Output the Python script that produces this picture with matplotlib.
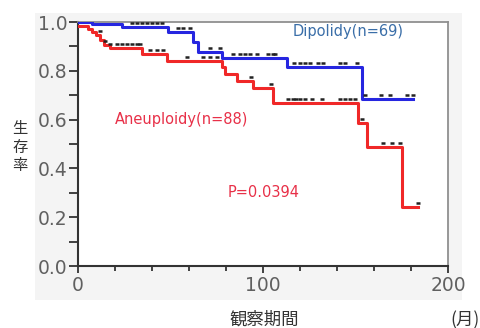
import numpy as np
import matplotlib
matplotlib.use("Agg")
import matplotlib.pyplot as plt
import matplotlib.transforms as mtransforms
from matplotlib.ticker import MultipleLocator

plt.rcParams['font.family'] = ['DejaVu Sans', 'Noto Sans CJK JP']

# Dipolidy (n=69) step curve
dip_time = [0, 7.5, 24, 48.6, 62, 65, 78, 113, 153.5, 181]
dip_surv = [1.0, 0.99, 0.978, 0.957, 0.92, 0.878, 0.852, 0.815, 0.683, 0.683]
dip_cens = [29.2, 31.9, 34.6, 37.3, 40, 42.7, 45.4, 54, 56.8, 60.5, 71.4, 76.8,
            83.8, 87.6, 90.3, 93, 96.8, 102.7, 105.4, 106.5,
            117, 120, 122.7, 125.4, 129.7, 132.4, 141.6, 144.3, 150.8,
            155, 164, 168.6, 177.8, 181]

# Aneuploidy (n=88) step curve
ane_time = [0, 5.4, 7.6, 9.7, 12, 14, 17.3, 34.6, 48, 77.8, 79.5, 86, 94.6,
            105.4, 151.4, 156.2, 175, 183.8]
ane_surv = [0.985, 0.97, 0.96, 0.945, 0.925, 0.905, 0.893, 0.868, 0.842, 0.815,
            0.786, 0.757, 0.728, 0.67, 0.588, 0.486, 0.243, 0.243]
ane_cens = [11.9, 14.6, 17.3, 21, 23.8, 26.5, 29.2, 31.9, 33.5, 38.9, 42.7, 46,
            58.9, 67.6, 71.4, 75, 93.5, 104.5,
            113.5, 116, 118, 120, 122.7, 126.5, 132, 141.6, 144.3, 147, 149.7,
            153.5, 164.9, 169.7, 174, 183.8]

x_ticks = [0, 100, 200]
y_ticks = [0.0, 0.2, 0.4, 0.6, 0.8, 1.0]
y_labels = ["0.0", "0.2", "0.4", "0.6", "0.8", "1.0"]

fig = plt.figure(figsize=(4.8, 3.28), dpi=100)
bg = fig.add_axes([35/480, 28/328, (462-35)/480, (315-28)/328], zorder=0)
bg.set_facecolor('#f4f4f4')
bg.set_xticks([]); bg.set_yticks([])
for s in bg.spines.values():
    s.set_visible(False)

ax = fig.add_axes([78/480, 62/328, 370/480, 244/328], zorder=2)
ax.set_facecolor('white')

blue = '#2626e0'
red = '#f02828'
ax.step(dip_time, dip_surv, where='post', color=blue, lw=2.2, zorder=3)
ax.step(ane_time, ane_surv, where='post', color=red, lw=2.2, zorder=3)

off = mtransforms.offset_copy(ax.transData, fig=fig, x=0, y=4, units='dots')

def surv_at(times, survs, t):
    idx = np.searchsorted(np.array(times), t, side='right') - 1
    return np.array(survs)[idx]

for times, survs, cens in [(dip_time, dip_surv, dip_cens), (ane_time, ane_surv, ane_cens)]:
    cy = surv_at(times, survs, np.array(cens))
    ax.plot(cens, cy, linestyle='none', marker='_', ms=3, mew=1.8,
            color='#222222', transform=off, zorder=4)

ax.set_xlim(0, 200)
ax.set_ylim(0, 1.0)
ax.set_xticks(x_ticks)
ax.set_yticks(y_ticks)
ax.set_yticklabels(y_labels)
ax.xaxis.set_minor_locator(MultipleLocator(20))
ax.yaxis.set_minor_locator(MultipleLocator(0.1))
ax.tick_params(axis='y', which='both', direction='out', length=6.5, width=1.3,
               color='#333333', labelsize=13.5, labelcolor='#606060', pad=1)
ax.tick_params(axis='x', which='major', direction='out', length=5, width=1.3,
               color='#333333', labelsize=13.5, labelcolor='#606060', pad=2)
ax.tick_params(axis='x', which='minor', direction='out', length=3.5, width=1.3,
               color='#333333')
for s in ['left', 'bottom']:
    ax.spines[s].set_color('#333333')
    ax.spines[s].set_linewidth(1.5)
for s in ['top', 'right']:
    ax.spines[s].set_color('#909090')
    ax.spines[s].set_linewidth(1.3)

ax.text(146, 0.963, 'Dipolidy(n=69)', color='#3a6ea8', fontsize=10.5,
        ha='center', va='center')
ax.text(56, 0.60, 'Aneuploidy(n=88)', color='#e83048', fontsize=10.5,
        ha='center', va='center')
ax.text(100.5, 0.30, 'P=0.0394', color='#e83048', fontsize=10.5,
        ha='center', va='center')

jp = ['Noto Sans CJK JP', 'DejaVu Sans']
fig.text(20/480, 1 - 147/328, '生\n存\n率', fontsize=11, color='#333333',
         ha='center', va='center', linespacing=1.15, family=jp, zorder=5)
fig.text(264/480, 1 - 320/328, '観察期間', fontsize=12.5, color='#333333',
         ha='center', va='center', family=jp, zorder=5)
fig.text(465/480, 1 - 320/328, '(月)', fontsize=12.5, color='#333333',
         ha='center', va='center', family=jp, zorder=5)

fig.savefig('out.png', dpi=100)
